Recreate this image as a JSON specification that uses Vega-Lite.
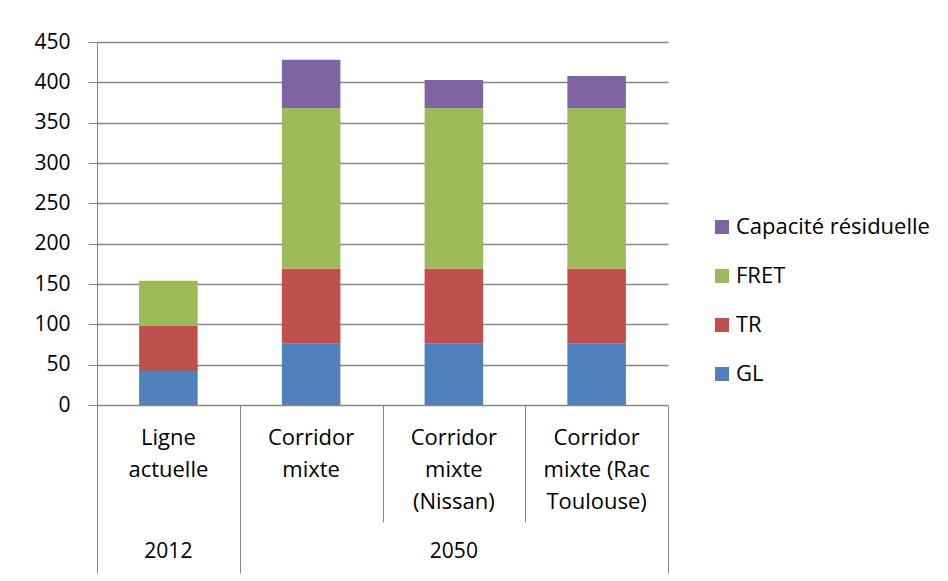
{
  "$schema": "https://vega.github.io/schema/vega-lite/v6.json",
  "width": 571,
  "height": 363,
  "autosize": {"type": "none"},
  "padding": {"left": 97, "top": 42, "right": 280, "bottom": 176},
  "background": "white",
  "config": {
    "view": {"stroke": null},
    "font": "Open Sans",
    "axis": {"labelFont": "Open Sans", "labelColor": "#000000", "labelFontSize": 20}
  },
  "data": {
    "values": [
      {"scenario": "Ligne actuelle", "serie": "GL", "rang": 1, "valeur": 42},
      {"scenario": "Ligne actuelle", "serie": "TR", "rang": 2, "valeur": 56},
      {"scenario": "Ligne actuelle", "serie": "FRET", "rang": 3, "valeur": 56},
      {"scenario": "Corridor mixte", "serie": "GL", "rang": 1, "valeur": 76},
      {"scenario": "Corridor mixte", "serie": "TR", "rang": 2, "valeur": 93},
      {"scenario": "Corridor mixte", "serie": "FRET", "rang": 3, "valeur": 199},
      {"scenario": "Corridor mixte", "serie": "Capacité résiduelle", "rang": 4, "valeur": 60},
      {"scenario": "Corridor mixte (Nissan)", "serie": "GL", "rang": 1, "valeur": 76},
      {"scenario": "Corridor mixte (Nissan)", "serie": "TR", "rang": 2, "valeur": 93},
      {"scenario": "Corridor mixte (Nissan)", "serie": "FRET", "rang": 3, "valeur": 199},
      {"scenario": "Corridor mixte (Nissan)", "serie": "Capacité résiduelle", "rang": 4, "valeur": 35},
      {"scenario": "Corridor mixte (Rac Toulouse)", "serie": "GL", "rang": 1, "valeur": 76},
      {"scenario": "Corridor mixte (Rac Toulouse)", "serie": "TR", "rang": 2, "valeur": 93},
      {"scenario": "Corridor mixte (Rac Toulouse)", "serie": "FRET", "rang": 3, "valeur": 199},
      {"scenario": "Corridor mixte (Rac Toulouse)", "serie": "Capacité résiduelle", "rang": 4, "valeur": 40}
    ]
  },
  "layer": [
    {
      "mark": {"type": "bar"},
      "encoding": {
        "x": {
          "field": "scenario",
          "type": "nominal",
          "sort": ["Ligne actuelle", "Corridor mixte", "Corridor mixte (Nissan)", "Corridor mixte (Rac Toulouse)"],
          "scale": {"paddingInner": 0.59, "paddingOuter": 0.295},
          "axis": {
            "orient": "bottom",
            "title": null,
            "ticks": false,
            "domain": false,
            "labelAngle": 0,
            "labelFontSize": 22,
            "labelLineHeight": 32,
            "labelPadding": 22,
            "labelLimit": 300,
            "labelExpr": "datum.value === 'Ligne actuelle' ? ['Ligne','actuelle'] : datum.value === 'Corridor mixte' ? ['Corridor','mixte'] : datum.value === 'Corridor mixte (Nissan)' ? ['Corridor','mixte','(Nissan)'] : ['Corridor','mixte (Rac','Toulouse)']"
          }
        },
        "y": {
          "field": "valeur",
          "type": "quantitative",
          "stack": "zero",
          "scale": {"domain": [0, 450], "nice": false},
          "axis": {
            "title": null,
            "values": [0, 50, 100, 150, 200, 250, 300, 350, 400, 450],
            "grid": true,
            "gridColor": "#868686",
            "gridWidth": 1.5,
            "domainColor": "#868686",
            "domainWidth": 1,
            "tickColor": "#868686",
            "tickSize": 9,
            "labelPadding": 18,
            "labelFontSize": 21
          }
        },
        "color": {
          "field": "serie",
          "type": "nominal",
          "scale": {
            "domain": ["Capacité résiduelle", "FRET", "TR", "GL"],
            "range": ["#8064A2", "#9BBB59", "#C0504D", "#4F81BD"]
          },
          "legend": {
            "title": null,
            "orient": "none",
            "legendX": 614,
            "legendY": 174,
            "symbolType": "square",
            "symbolSize": 196,
            "symbolStrokeWidth": 0,
            "labelFontSize": 22,
            "labelFont": "Open Sans",
            "labelColor": "#000000",
            "labelLimit": 300,
            "labelOffset": 3,
            "rowPadding": 27,
            "padding": 0
          }
        },
        "order": {"field": "rang", "type": "quantitative"}
      }
    },
    {
      "mark": {"type": "bar", "opacity": 0},
      "encoding": {
        "x": {
          "field": "scenario",
          "type": "nominal",
          "sort": ["Ligne actuelle", "Corridor mixte", "Corridor mixte (Nissan)", "Corridor mixte (Rac Toulouse)"],
          "scale": {"padding": 0},
          "axis": {
            "orient": "bottom",
            "title": null,
            "labels": false,
            "domain": false,
            "tickBand": "extent",
            "tickColor": "#868686",
            "tickWidth": 1,
            "tickSize": {
              "condition": {"test": "datum.value === 'Corridor mixte' || datum.value === 'Corridor mixte (Nissan)'", "value": 117},
              "value": 168
            }
          }
        }
      }
    },
    {
      "mark": {"type": "bar", "opacity": 0},
      "encoding": {
        "x": {
          "field": "scenario",
          "type": "nominal",
          "sort": ["Ligne actuelle", "Corridor mixte", "Corridor mixte (Nissan)", "Corridor mixte (Rac Toulouse)"],
          "scale": {"padding": 0},
          "axis": {
            "orient": "bottom",
            "title": null,
            "ticks": false,
            "tickSize": 0,
            "domain": false,
            "labelAngle": 0,
            "labelFontSize": 21,
            "labelPadding": 135,
            "labelExpr": "datum.value === 'Ligne actuelle' ? '2012' : datum.value === 'Corridor mixte (Nissan)' ? '2050' : ''"
          }
        }
      }
    }
  ],
  "resolve": {"scale": {"x": "independent"}, "axis": {"x": "independent"}}
}
